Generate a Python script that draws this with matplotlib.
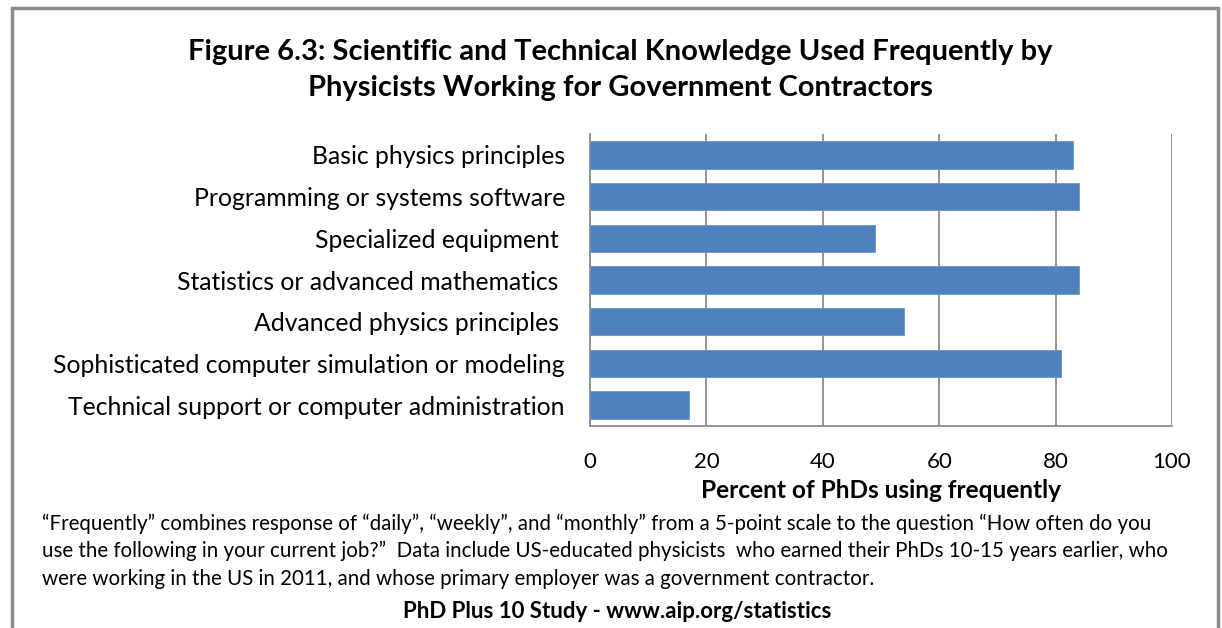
import numpy as np
import matplotlib.pyplot as plt
from matplotlib.patches import Rectangle

# data (top to bottom)
categories = ["Basic physics principles",
              "Programming or systems software",
              "Specialized equipment ",
              "Statistics or advanced mathematics ",
              "Advanced physics principles ",
              "Sophisticated computer simulation or modeling",
              "Technical support or computer administration"]
percents = [83, 84, 49, 84, 54, 81, 17]
xticks = [0, 20, 40, 60, 80, 100]

plt.rcParams['font.family'] = ['Lato', 'DejaVu Sans']

W, H = 1222, 628
fig = plt.figure(figsize=(W / 100, H / 100), dpi=100)

# gray frame around the figure
fig.patches.append(Rectangle((12 / W, -0.05), (1218 - 12) / W, 1.05 - 8 / H,
                             transform=fig.transFigure, fill=False,
                             edgecolor='#8c8c8c', linewidth=2.5))

ax = fig.add_axes([590 / W, 1 - 426 / H, 582 / W, 292 / H])
y = np.arange(len(categories))
ax.barh(y, percents, height=0.66, color='#4f81bd', edgecolor='#6a96cc', linewidth=0.6, zorder=3)
ax.set_ylim(len(categories) - 0.5, -0.5)
ax.set_xlim(0, 100)
ax.set_xticks(xticks)
ax.set_xticklabels([str(t) for t in xticks], fontsize=16)
ax.set_yticks(y)
ax.set_yticklabels(categories, fontsize=17.8)
ax.tick_params(axis='both', length=0)
ax.tick_params(axis='x', pad=19)
ax.tick_params(axis='y', pad=18)
ax.grid(axis='x', color='#8c8c8c', linewidth=1.3, zorder=0)
for s in ['top', 'right']:
    ax.spines[s].set_visible(False)
for s in ['left', 'bottom']:
    ax.spines[s].set_color('#8c8c8c')
    ax.spines[s].set_linewidth(1.3)
ax.set_xlabel("Percent of PhDs using frequently", fontsize=17.6, fontweight='bold', labelpad=5)

fig.text(620 / W, 1 - 70 / H,
         "Figure 6.3: Scientific and Technical Knowledge Used Frequently by\nPhysicists Working for Government Contractors",
         ha='center', va='center', fontsize=21, fontweight='bold', linespacing=1.45)

note = ("\u201cFrequently\u201d combines response of \u201cdaily\u201d, \u201cweekly\u201d, and \u201cmonthly\u201d from a 5-point scale to the question \u201cHow often do you\n"
        "use the following in your current job?\u201d  Data include US-educated physicists  who earned their PhDs 10-15 years earlier, who\n"
        "were working in the US in 2011, and whose primary employer was a government contractor.")
fig.text(42 / W, 1 - 551 / H, note, ha='left', va='center', fontsize=14.8, linespacing=1.45)
fig.text(617 / W, 1 - 612 / H, "PhD Plus 10 Study - www.aip.org/statistics",
         ha='center', va='center', fontsize=16, fontweight='bold')

fig.savefig("out.png", dpi=100)
